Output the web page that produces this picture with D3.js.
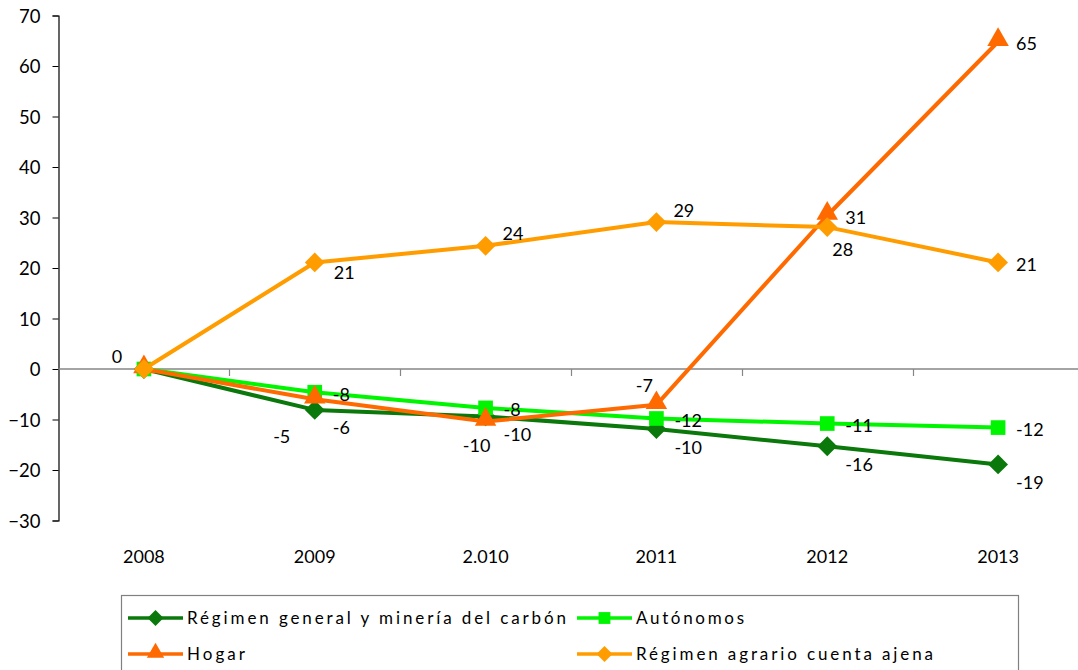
<!DOCTYPE html>
<html>
<head>
<meta charset="utf-8">
<script src="https://cdn.jsdelivr.net/npm/d3@7"></script>
<style>
  body { margin: 0; background: #fff; }
  svg text { font-family: Lato, "Open Sans", sans-serif; fill: #000; }
</style>
</head>
<body>
<svg id="chart" width="1078" height="670"></svg>
<script>
// categories and series values
var years = ["2008", "2009", "2.010", "2011", "2012", "2013"];
var general   = [0, -8.1, -9.4, -11.9, -15.3, -18.9];
var autonomos = [0, -4.6, -7.7, -9.8, -10.8, -11.6];
var hogar     = [0, -6.0, -10.4, -7.1, 30.4, 64.8];
var agrario   = [0, 21.1, 24.4, 29.1, 28.1, 21.1];

// data labels as printed on the chart (null = not shown)
var generalLabels   = [null, "-6", "-10", "-10", "-16", "-19"];
var autonomosLabels = [null, "-8", "-8", "-12", "-11", "-12"];
var hogarLabels     = [null, "-5", "-10", "-7", "31", "65"];
var agrarioLabels   = ["0", "21", "24", "29", "28", "21"];

var yTicks = [-30, -20, -10, 0, 10, 20, 30, 40, 50, 60, 70];

var series = [
  {name: "Régimen general y minería del carbón", values: general, labels: generalLabels,
   color: "#0a780a", symbol: "diamond", place: ["", "br", "br", "br", "br", "br"]},
  {name: "Autónomos", values: autonomos, labels: autonomosLabels,
   color: "#00f500", symbol: "square", place: ["", "r", "r", "r", "r", "r"]},
  {name: "Hogar", values: hogar, labels: hogarLabels,
   color: "#ff6a00", symbol: "triangle", place: ["", "bl", "b", "tl", "r", "r"]},
  {name: "Régimen agrario cuenta ajena", values: agrario, labels: agrarioLabels,
   color: "#ff9c00", symbol: "diamond", place: ["ul", "br2", "tr", "tr", "br3", "r"]}
];

// label offsets relative to the point
var offsets = {
  r:   {dx: 18, dy: 2, anchor: "start"},
  br:  {dx: 18, dy: 18, anchor: "start"},
  br2: {dx: 19, dy: 10, anchor: "start"},
  br3: {dx: 5, dy: 22, anchor: "start"},
  tr:  {dx: 17, dy: -12, anchor: "start"},
  tl:  {dx: -12, dy: -19, anchor: "middle"},
  bl:  {dx: -33, dy: 37, anchor: "middle"},
  b:   {dx: -9, dy: 24, anchor: "middle"},
  ul:  {dx: -27, dy: -12, anchor: "middle"}
};

var svg = d3.select("#chart");
var mLeft = 58.5, mRight = 1083.5, mTop = 15.5, mBottom = 520.5;

var x = d3.scaleBand().domain(years).range([mLeft, mRight]).padding(0);
var y = d3.scaleLinear().domain([-30, 70]).range([mBottom, mTop]);
var cx = function(i) { return x(years[i]) + x.bandwidth() / 2; };

// y axis
var yAxis = svg.append("g")
  .attr("transform", "translate(" + mLeft + ",0)")
  .call(d3.axisLeft(y).tickValues(yTicks).tickSize(6).tickPadding(12).tickFormat(d3.format("d")));
yAxis.select(".domain").attr("stroke", "#000").attr("stroke-width", 1.2);
yAxis.selectAll(".tick line").attr("stroke", "#000");
yAxis.selectAll("text").style("font-size", "18.5px").attr("dy", "0.36em");

// x axis along zero
var xg = svg.append("g");
xg.append("line")
  .attr("x1", mLeft).attr("x2", mRight)
  .attr("y1", y(0)).attr("y2", y(0))
  .attr("stroke", "#868686").attr("stroke-width", 1.5);
xg.selectAll("line.tick").data(years.slice(1))
  .enter().append("line")
  .attr("class", "tick")
  .attr("x1", d => Math.round(x(d)) + 0.5).attr("x2", d => Math.round(x(d)) + 0.5)
  .attr("y1", y(0)).attr("y2", y(0) + 7)
  .attr("stroke", "#868686").attr("stroke-width", 1.2);
xg.selectAll("text").data(years)
  .enter().append("text")
  .attr("x", d => x(d) + x.bandwidth() / 2)
  .attr("y", 557)
  .attr("dy", "0.36em")
  .attr("text-anchor", "middle")
  .style("font-size", "18px")
  .text(d => d);

function markerPath(type, scale) {
  var t = {diamond: d3.symbolDiamond2, square: d3.symbolSquare, triangle: d3.symbolTriangle}[type];
  var size = {diamond: 250, square: 215, triangle: 200}[type];
  return d3.symbol().type(t).size(size * scale)();
}

function drawMarker(g, s, px, py, scale) {
  g.append("path")
    .attr("d", markerPath(s.symbol, scale))
    .attr("transform", "translate(" + px + "," + (s.symbol == "triangle" ? py - 2 * scale : py) + ")")
    .attr("fill", s.color);
}

var line = d3.line().x((d, i) => cx(i)).y(d => y(d));

series.forEach(function(s) {
  var g = svg.append("g");
  g.append("path")
    .datum(s.values)
    .attr("d", line)
    .attr("fill", "none")
    .attr("stroke", s.color)
    .attr("stroke-width", 4)
    .attr("stroke-linejoin", "round");
  s.values.forEach(function(v, i) { drawMarker(g, s, cx(i), y(v), 1); });
});

// data labels on top
series.forEach(function(s) {
  s.labels.forEach(function(lab, i) {
    if (lab == null) return;
    var o = offsets[s.place[i]];
    svg.append("text")
      .attr("x", cx(i) + o.dx)
      .attr("y", y(s.values[i]) + o.dy)
      .attr("dy", "0.36em")
      .attr("text-anchor", o.anchor)
      .style("font-size", "18px")
      .text(lab);
  });
});

// legend
var legend = svg.append("g");
legend.append("rect")
  .attr("x", 121.5).attr("y", 595.5)
  .attr("width", 897).attr("height", 90)
  .attr("fill", "#fff").attr("stroke", "#808080").attr("stroke-width", 1.2);

var legendPos = [
  {x: 128, y: 618, w: 379}, {x: 577, y: 618, w: 108},
  {x: 128, y: 654, w: 58},  {x: 577, y: 654, w: 297}
];

series.forEach(function(s, i) {
  var p = legendPos[i];
  legend.append("line")
    .attr("x1", p.x).attr("x2", p.x + 55)
    .attr("y1", p.y).attr("y2", p.y)
    .attr("stroke", s.color).attr("stroke-width", 3.5);
  drawMarker(legend, s, p.x + 27.5, p.y, 0.65);
  legend.append("text")
    .attr("x", p.x + 59)
    .attr("y", p.y)
    .attr("dy", "0.36em")
    .attr("textLength", p.w)
    .attr("lengthAdjust", "spacing")
    .style("font-size", "17px")
    .text(s.name);
});
</script>
</body>
</html>
